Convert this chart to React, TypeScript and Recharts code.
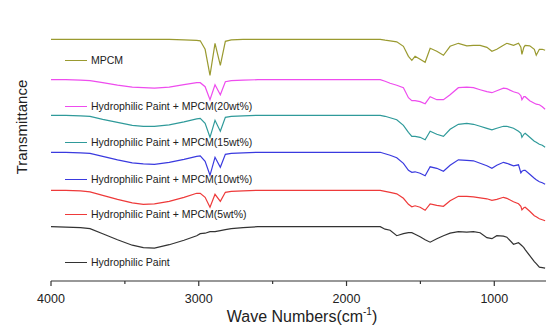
import { LineChart, Line, XAxis, YAxis } from 'recharts';

// wavenumber grid (cm-1), shared by all spectra
const wavenumbers = [
  4000, 3900, 3800, 3736, 3650, 3550, 3450, 3375, 3300, 3200,
  3100, 3014, 2990, 2957, 2924, 2890, 2854, 2820, 2780, 2700,
  2600, 2400, 2200, 2000, 1850, 1772, 1739, 1705, 1660, 1615,
  1581, 1558, 1536, 1502, 1468, 1434, 1389, 1344, 1299, 1243,
  1186, 1141, 1096, 1050, 1016, 983, 938, 915, 870, 836,
  820, 813, 800, 791, 760, 729, 716, 695, 675, 656,
];

// transmittance drop below each trace's flat baseline (arb. units)
const mpcm = [
  0, 0, 0, 0, 0, 0, 0, 0, 0, 0,
  0.5, 1, 1.5, 10, 36, 4, 26, 2, 0.5, 0,
  0, 0, 0, 0, 0, 0, 0.8, 1.5, 2.5, 7,
  17, 21, 17, 20, 23, 9, 12, 16, 7, 4,
  6.5, 6, 6, 8, 12, 10, 6, 4, 6, 4,
  8, 15, 8, 6, 6.5, 10, 16, 10, 10, 11,
];
const paint20 = [
  0, 0, 0.5, 1, 3, 5.5, 7.5, 8, 8.5, 7.5,
  5, 3, 3, 7, 20, 5, 15, 2, 1, 0.5,
  0, 0, 0, 0, 0, 0, 1.5, 3.5, 5.5, 8,
  18, 21, 21, 22, 24, 17, 20, 20, 15, 8,
  7.5, 8, 10, 12, 13, 11, 8.5, 9, 12, 13.5,
  16, 20, 17, 17, 21, 23.5, 24.5, 25, 27, 29.5,
];
const paint15 = [
  0, 0, 0.5, 1, 4, 7, 10, 11, 11, 9.5,
  6.5, 3.5, 3, 8, 22, 5, 16, 2, 1, 0.5,
  0, 0, 0, 0, 0, 0, 1, 2.5, 4.5, 10,
  17, 21, 21, 22, 24.5, 16, 19, 21, 14, 9,
  8, 9, 11, 13, 14.5, 13, 11, 11, 13, 16,
  18, 22, 19, 18, 22, 26, 27, 29, 30, 32,
];
const paint10 = [
  0, 0, 0.5, 1, 4, 7.5, 10.5, 11.5, 12, 10,
  7, 4, 3.5, 9, 23, 5, 15, 2, 1, 0.5,
  0, 0, 0, 0, 0, 0, 1.5, 3, 5.5, 11,
  18, 20, 19.5, 21, 23.5, 14.5, 16, 19, 13, 7.5,
  8, 8.5, 11, 13.5, 16, 13, 10, 11, 13.5, 12.5,
  20.5, 19, 18, 18, 22, 26, 27.5, 29.5, 30.5, 32,
];
const paint5 = [
  0, 0, 0.5, 1.5, 5, 9, 12.5, 14, 13.5, 11,
  7, 3, 3, 7, 17, 4, 11, 2, 1, 0.5,
  0, 0, 0, 0, 0, 0, 1, 2, 3.5, 8,
  14, 16.5, 15.5, 17, 20, 13.5, 15, 16, 10.5, 6,
  6, 6.5, 7.5, 8.5, 10, 9, 7, 8, 11.5, 13.5,
  16, 19.5, 17.5, 17, 21, 25.5, 26.5, 28.5, 29.5, 30.5,
];
const paint = [
  0, 0.5, 1, 2, 7, 13, 18.5, 21, 21.5, 18,
  13.5, 9, 7, 6.5, 5, 5, 4, 3, 2, 1,
  0, 0, 0, 0, 0, 0, 2.5, 3.5, 9, 7,
  6, 6, 7.5, 10, 13, 15.5, 12, 9, 6.5, 5,
  5.5, 5, 6, 11, 12, 9, 9.5, 10.5, 17.5, 16,
  18, 19, 21, 23, 29, 35, 37, 40.5, 41, 41.5,
];

const seriesNames = [
  'MPCM',
  'Hydrophilic Paint + MPCM(20wt%)',
  'Hydrophilic Paint + MPCM(15wt%)',
  'Hydrophilic Paint + MPCM(10wt%)',
  'Hydrophilic Paint + MPCM(5wt%)',
  'Hydrophilic Paint',
];
const seriesValues = [mpcm, paint20, paint15, paint10, paint5, paint];
// vertical shift of each trace (stacked plot)
const offsets = [241.7, 201.3, 165.7, 128.7, 90.7, 54.3];
const xTicks = [4000, 3500, 3000, 2500, 2000, 1500, 1000];

const colors = ['#9a9a30', '#ee4cee', '#2f9a9a', '#3a3adf', '#ee3a3a', '#333333'];
const legendY = [60, 106, 142, 179, 214, 262];

const data = wavenumbers.map((wn, i) => {
  const row: Record<string, number> = { wn };
  seriesValues.forEach((vals, s) => {
    row['s' + s] = offsets[s] - vals[i];
  });
  return row;
});

const FONT = '"Liberation Sans", Arial, sans-serif';

function WnTick(props: any) {
  const { x, y, payload } = props;
  const major = payload.value % 1000 === 0;
  return (
    <g>
      <line x1={x} y1={y} x2={x} y2={y + (major ? 5 : 3)} stroke="#333" strokeWidth={1.2} />
      {major && (
        <text x={x} y={y + 22} textAnchor="middle" fontSize={12.5} fill="#222" fontFamily={FONT}>
          {payload.value}
        </text>
      )}
    </g>
  );
}

export default function App() {
  return (
    <div style={{ position: 'fixed', left: 0, top: 0, width: 546, height: 326, background: '#fff' }}>
      <LineChart width={546} height={326} data={data} margin={{ top: 9, right: 0, bottom: 0, left: 51 }}>
        <XAxis
          dataKey="wn"
          type="number"
          domain={[650, 4000]}
          reversed
          allowDataOverflow
          ticks={xTicks}
          interval={0}
          tickSize={0}
          tickMargin={0}
          tick={<WnTick />}
          height={45}
          stroke="#333"
          strokeWidth={1.2}
        />
        <YAxis type="number" domain={[0, 272]} allowDataOverflow tick={false} tickLine={false} width={0} stroke="#333" strokeWidth={1.2} />
        {seriesNames.map((name, s) => (
          <Line
            key={name}
            name={name}
            dataKey={'s' + s}
            type="linear"
            stroke={colors[s]}
            strokeWidth={1.2}
            dot={false}
            isAnimationActive={false}
          />
        ))}
      </LineChart>

      {seriesNames.map((name, s) => (
        <div
          key={name}
          style={{
            position: 'absolute',
            left: 65,
            top: legendY[s] - 7,
            height: 14,
            display: 'flex',
            alignItems: 'center',
            fontFamily: FONT,
            fontSize: 10.5,
            color: '#222',
            whiteSpace: 'nowrap',
          }}
        >
          <span style={{ display: 'inline-block', width: 22, height: 0, borderTop: `1px solid ${colors[s]}`, marginRight: 4 }} />
          {name}
        </div>
      ))}

      <div
        style={{
          position: 'absolute',
          left: 21,
          top: 127,
          transform: 'translate(-50%, -50%) rotate(-90deg)',
          fontFamily: FONT,
          fontSize: 15,
          color: '#222',
          whiteSpace: 'nowrap',
        }}
      >
        Transmittance
      </div>

      <div
        style={{
          position: 'absolute',
          left: 302,
          top: 316,
          transform: 'translate(-50%, -50%)',
          fontFamily: FONT,
          fontSize: 16,
          color: '#222',
          whiteSpace: 'nowrap',
        }}
      >
        Wave Numbers(cm<sup style={{ fontSize: 10, verticalAlign: 'super' }}>-1</sup>)
      </div>
    </div>
  );
}
